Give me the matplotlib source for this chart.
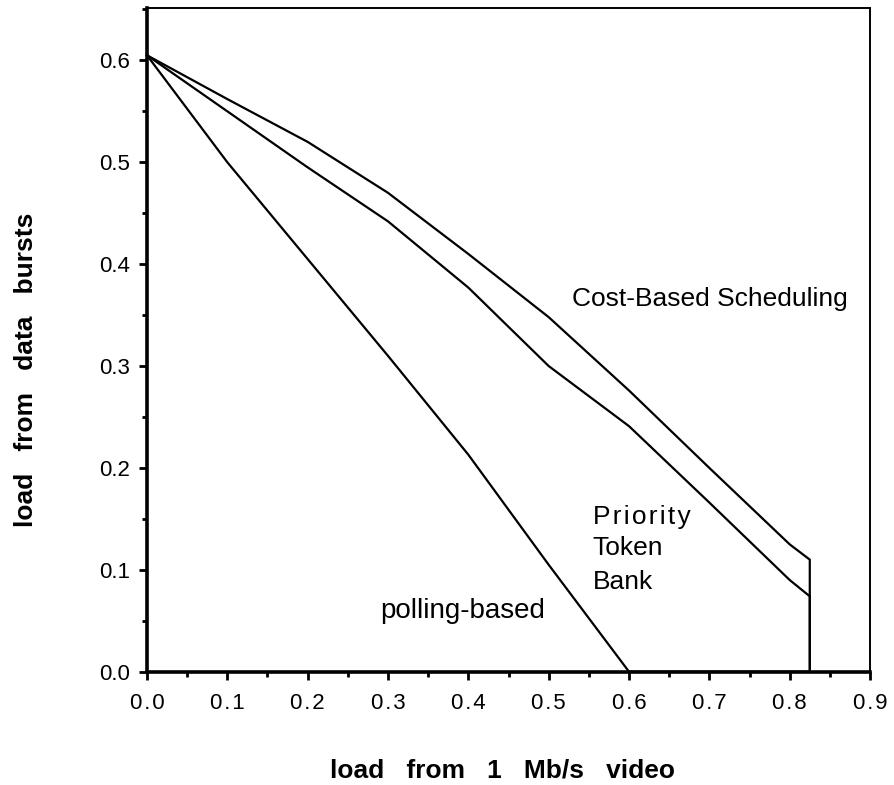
import matplotlib.pyplot as plt
from matplotlib.ticker import MultipleLocator

plt.rcParams['font.family'] = ['Liberation Sans', 'DejaVu Sans']

# load from 1 Mb/s video
x_cost = [0.0, 0.1, 0.2, 0.3, 0.4, 0.5, 0.6, 0.7, 0.8, 0.825, 0.825]
y_cost = [0.605, 0.562, 0.52, 0.47, 0.41, 0.348, 0.276, 0.2, 0.125, 0.11, 0.0]

x_ptb = [0.0, 0.1, 0.2, 0.3, 0.4, 0.5, 0.6, 0.7, 0.8, 0.825, 0.825]
y_ptb = [0.605, 0.55, 0.495, 0.442, 0.377, 0.30, 0.241, 0.166, 0.09, 0.074, 0.0]

x_poll = [0.0, 0.1, 0.2, 0.3, 0.4, 0.5, 0.6, 0.825]
y_poll = [0.605, 0.50, 0.405, 0.31, 0.213, 0.105, 0.0, 0.0]

fig = plt.figure(figsize=(8.94, 7.85), dpi=100)
ax = fig.add_axes([0.1644, 0.1443, 0.8088, 0.845])

for xs, ys in [(x_cost, y_cost), (x_ptb, y_ptb), (x_poll, y_poll)]:
    ax.plot(xs, ys, color='black', lw=1.6, clip_on=False, solid_joinstyle='miter')

ax.set_xlim(0, 0.9)
ax.set_ylim(0, 0.651)
ax.xaxis.set_major_locator(MultipleLocator(0.1))
ax.xaxis.set_minor_locator(MultipleLocator(0.05))
ax.yaxis.set_major_locator(MultipleLocator(0.1))
ax.yaxis.set_minor_locator(MultipleLocator(0.05))
# x tick labels are a bit letter-spaced in the original
ax.xaxis.set_major_formatter(plt.FuncFormatter(lambda v, p: '\u200a'.join(f'{v:.1f}')))
ax.yaxis.set_major_formatter(plt.FuncFormatter(lambda v, p: f'{v:.1f}'))

ax.spines['left'].set_linewidth(2.6)
ax.spines['bottom'].set_linewidth(2.6)
ax.spines['top'].set_linewidth(1.4)
ax.spines['right'].set_linewidth(1.4)

ax.tick_params(which='major', direction='out', length=6, width=2)
ax.tick_params(which='minor', direction='out', length=3.5, width=2)
ax.tick_params(axis='x', which='major', labelsize=16, pad=9.5)
ax.tick_params(axis='y', which='major', labelsize=16, pad=6)

ax.set_xlabel('load   from   1   Mb/s   video', fontsize=19, fontweight='bold', labelpad=32)
ax.set_ylabel('load   from   data   bursts', fontsize=19, fontweight='bold', labelpad=44)
ax.xaxis.label.set_x(0.492)
ax.yaxis.label.set_y(0.455)

ax.text(0.529, 0.366, 'Cost-Based Scheduling', fontsize=19, va='center', ha='left')
ax.text(0.555, 0.152, '\u200a'.join('Priority'), fontsize=19, va='center', ha='left')
ax.text(0.555, 0.121, 'Token', fontsize=19, va='center', ha='left')
ax.text(0.555, 0.088, 'Bank', fontsize=19, va='center', ha='left')
ax.text(0.29, 0.060, 'polling-based', fontsize=20, va='center', ha='left')

fig.savefig('out.png', dpi=100)
